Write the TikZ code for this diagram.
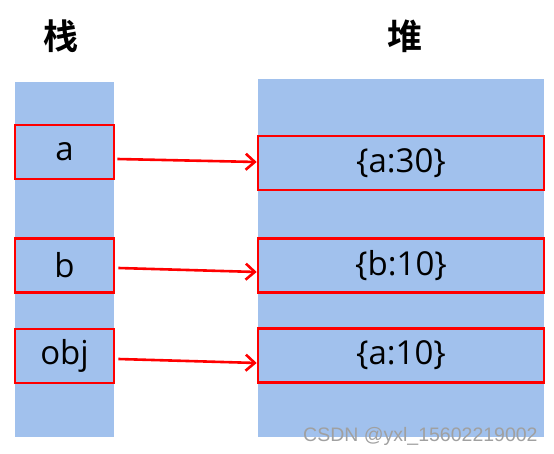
\documentclass[tikz,border=0pt]{standalone}
\usepackage{fontspec}
\setmainfont{Open Sans}
\newfontfamily\cjk[BoldFont={* Bold}]{Noto Sans CJK SC}
\newfontfamily\markfont{Liberation Sans}
\usepackage{xcolor}
\definecolor{colblue}{RGB}{161, 193, 237}
\definecolor{markgray}{RGB}{160, 160, 160}
\usetikzlibrary{arrows.meta}

\begin{document}
\begin{tikzpicture}[x=1pt, y=-1pt,
        column/.style={fill=colblue, draw=none, inner sep=0pt},
        cell/.style={draw=red, line width=2.6pt, fill=colblue, inner sep=0pt, minimum height=54pt,
            font=\fontsize{33}{36}\selectfont},
        title/.style={font=\cjk\bfseries\fontsize{35}{40}\selectfont},
        ref/.style={draw=red, line width=2.6pt, -{Straight Barb[length=9pt, width=16pt]}}]
        % Canvas of the same size as the reference
        \useasboundingbox (0,0) rectangle (554,454);

        % Headings
        \node[title] (stacktitle) at (61,36) {栈};
        \node[title] (heaptitle) at (405,36) {堆};

        % Stack and heap columns
        \node[column, minimum width=99pt, minimum height=355pt] (stack) at (64.5,259.5) {};
        \node[column, minimum width=286pt, minimum height=358pt] (heap) at (401,258) {};

        % Variables on the stack
        \node[cell, minimum width=99pt] (a) at (64.5,152) {a};
        \node[cell, minimum width=99pt] (b) at (64.5,265.5) {b};
        \node[cell, minimum width=99pt] (obj) at (64.5,356) {obj};

        % Objects on the heap
        \node[cell, minimum width=286pt] (val1) at (401,163) {\{a:30\}};
        \node[cell, minimum width=286pt] (val2) at (401,265.5) {\{b:10\}};
        \node[cell, minimum width=286pt] (val3) at (401,355.5) {\{a:10\}};

        % References
        \draw[ref] ([shift={(2,7)}]a.east) -- ([shift={(0,-1)}]val1.west);
        \draw[ref] ([shift={(3,2.5)}]b.east) -- ([shift={(0,6.5)}]val2.west);
        \draw[ref] ([shift={(3,3)}]obj.east) -- ([shift={(0,7.5)}]val3.west);

        % Watermark
        \node[anchor=base west, inner sep=0pt, text=markgray, font=\markfont\fontsize{19.5}{22}\selectfont]
            (mark) at (303,441) {CSDN @yxl\_15602219002};
    \end{tikzpicture}
\end{document}
